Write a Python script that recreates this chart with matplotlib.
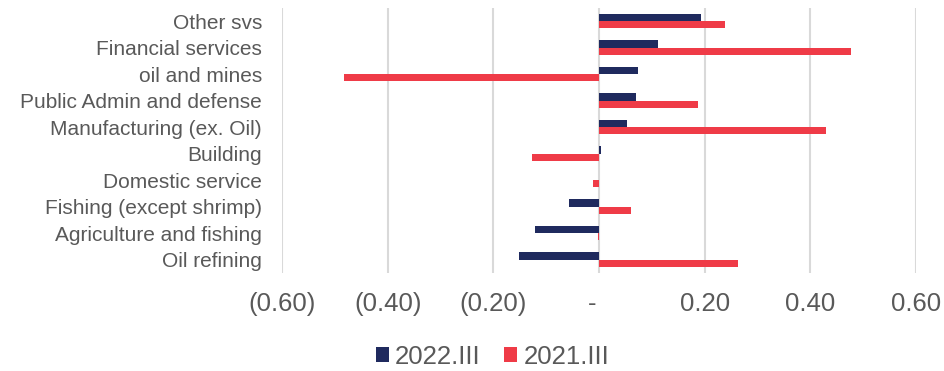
import matplotlib
matplotlib.use("Agg")
import matplotlib.pyplot as plt
import numpy as np
from matplotlib.ticker import FuncFormatter

plt.rcParams['font.family'] = ['Liberation Sans', 'DejaVu Sans']

categories = [
    "Other svs",
    "Financial services",
    "oil and mines",
    "Public Admin and defense",
    "Manufacturing (ex. Oil)",
    "Building",
    "Domestic service",
    "Fishing (except shrimp)",
    "Agriculture and fishing",
    "Oil refining",
]
series_2022 = [0.194, 0.112, 0.073, 0.071, 0.054, 0.004, 0.0, -0.057, -0.121, -0.152]
series_2021 = [0.239, 0.477, -0.483, 0.188, 0.430, -0.127, -0.012, 0.061, -0.002, 0.263]
x_ticks = [-0.6, -0.4, -0.2, 0.0, 0.2, 0.4, 0.6]

NAVY = "#1F2A5E"
RED = "#EF3B47"
TEXT = "#595959"

fig = plt.figure(figsize=(9.44, 3.71), dpi=100)
ax = fig.add_axes([0.2987, 0.2648, 0.6716, 0.7143])

n = len(categories)
pos = np.arange(n)[::-1]  # first category at top
h = 0.265
ax.barh(pos + h / 2, series_2022, height=h, color=NAVY, label="2022.III", zorder=3)
ax.barh(pos - h / 2, series_2021, height=h, color=RED, label="2021.III", zorder=3)

ax.set_xlim(-0.6, 0.6)
ax.set_ylim(-0.5, n - 0.5)
ax.set_yticks(pos)
ax.set_yticklabels(categories, fontsize=15, color=TEXT)
ax.set_xticks(x_ticks)


def acct(v, _):
    if abs(v) < 1e-9:
        return "-  "
    if v < 0:
        return f"({abs(v):.2f})"
    return f"{v:.2f}"


ax.xaxis.set_major_formatter(FuncFormatter(acct))
ax.tick_params(axis='x', labelsize=18.5, colors=TEXT, length=0, pad=14)
ax.tick_params(axis='y', length=0, pad=14.4)
ax.grid(axis='x', color="#D9D9D9", linewidth=1.5, zorder=0)
for s in ax.spines.values():
    s.set_visible(False)

leg = fig.legend(loc="center", bbox_to_anchor=(0.5217, 0.038), ncol=2, frameon=False,
                 fontsize=18.5, handlelength=0.5, handleheight=0.5, handletextpad=0.25,
                 columnspacing=0.9, borderpad=0)
for t in leg.get_texts():
    t.set_color(TEXT)

fig.savefig("out.png", dpi=100)
